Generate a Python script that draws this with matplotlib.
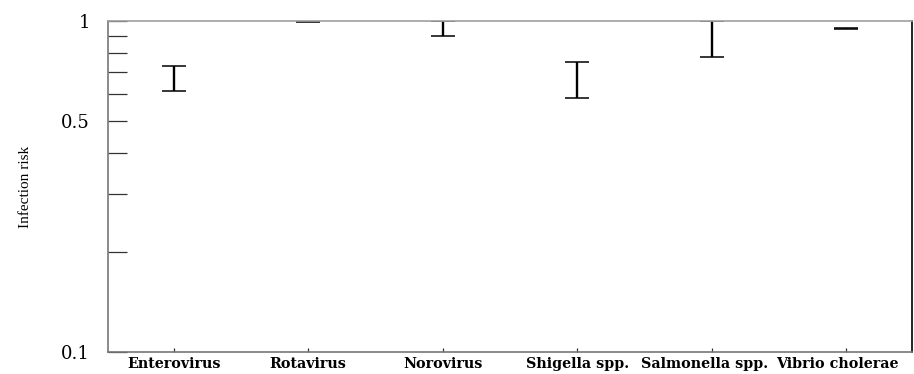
import matplotlib.pyplot as plt
import matplotlib.transforms as mtransforms
from matplotlib.ticker import FixedLocator, NullFormatter

# pathogens and min/max infection risk
pathogens = ["Enterovirus", "Rotavirus", "Norovirus", "Shigella spp.",
             "Salmonella spp.", "Vibrio cholerae"]
risk_low = [0.615, 0.995, 0.903, 0.585, 0.778, 0.943]
risk_high = [0.731, 1.0, 1.0, 0.752, 1.0, 0.949]

y_major = [0.1, 0.5, 1.0]
y_major_labels = ["0.1", "0.5", "1"]
y_minor = [0.2, 0.3, 0.4, 0.6, 0.7, 0.8, 0.9]

plt.rcParams['font.family'] = ['DejaVu Serif']

fig = plt.figure(figsize=(9.14, 3.74), dpi=100)
ax = fig.add_axes([0.118, 0.059, 0.880, 0.885])

x = list(range(1, len(pathogens) + 1))
mid = [(lo + hi) / 2 for lo, hi in zip(risk_low, risk_high)]
err = [[m - lo for m, lo in zip(mid, risk_low)],
       [hi - m for m, hi in zip(mid, risk_high)]]
ax.errorbar(x, mid, yerr=err, fmt='none', ecolor='black',
            elinewidth=1.7, capsize=8.6, capthick=1.1, zorder=2)

ax.set_yscale('log')
ax.set_ylim(0.1, 1.0)
ax.set_xlim(0.51, 6.49)

ax.yaxis.set_major_locator(FixedLocator(y_major))
ax.set_yticklabels(y_major_labels, fontsize=13)
ax.yaxis.set_minor_locator(FixedLocator(y_minor))
ax.yaxis.set_minor_formatter(NullFormatter())
ax.tick_params(axis='y', which='both', direction='in', length=13.5,
               width=0.9, color='#333333', pad=13)

ax.set_xticks(x)
ax.set_xticklabels(pathogens, fontsize=10.3, fontweight='bold')
ax.tick_params(axis='x', direction='in', length=3, width=0.9,
               color='#333333', pad=4)

# last two labels pushed left so the last one stays inside the figure
labels = ax.get_xticklabels()
for lab, dx in [(labels[4], -7), (labels[5], -9)]:
    off = mtransforms.ScaledTranslation(dx / 100, 0, fig.dpi_scale_trans)
    lab.set_transform(lab.get_transform() + off)

ax.set_ylabel("Infection risk", fontsize=11, family='Liberation Serif',
              labelpad=21)

for side in ['left', 'bottom']:
    ax.spines[side].set_color('#777777')
ax.spines['top'].set_color('#a0a0a0')
ax.spines['right'].set_color('black')
for s in ax.spines.values():
    s.set_linewidth(1.2)

fig.savefig("out.png", dpi=100)
